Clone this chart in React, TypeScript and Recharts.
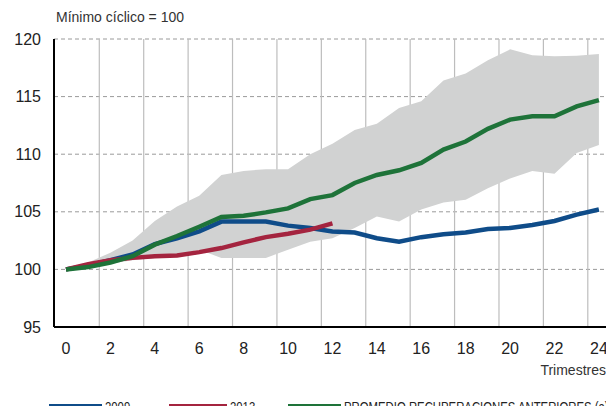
import React from 'react'
import { ComposedChart, Line, Area, XAxis, YAxis, CartesianGrid } from 'recharts'

const quarters = [0, 1, 2, 3, 4, 5, 6, 7, 8, 9, 10, 11, 12, 13, 14, 15, 16, 17, 18, 19, 20, 21, 22, 23, 24]
const serie2009 = [100, 100.35, 100.8, 101.3, 102.2, 102.7, 103.3, 104.15, 104.15, 104.15, 103.8, 103.6, 103.3, 103.2, 102.7, 102.4, 102.8, 103.05, 103.2, 103.5, 103.6, 103.85, 104.2, 104.75, 105.2]
const serie2013 = [100, 100.45, 100.8, 101.0, 101.15, 101.2, 101.5, 101.85, 102.35, 102.8, 103.1, 103.45, 104.0]
const promedio = [100, 100.2, 100.6, 101.15, 102.15, 102.9, 103.7, 104.55, 104.65, 104.95, 105.3, 106.1, 106.45, 107.5, 108.2, 108.6, 109.25, 110.4, 111.1, 112.2, 113.0, 113.3, 113.3, 114.15, 114.7]
const bandaMin = [100, 100.2, 100.5, 100.8, 101.0, 101.3, 101.7, 101.0, 101.0, 101.0, 101.7, 102.4, 102.7, 103.6, 104.6, 104.15, 105.2, 105.8, 106.05, 107.05, 107.9, 108.55, 108.3, 110.1, 110.8]
const bandaMax = [100, 100.6, 101.45, 102.5, 104.2, 105.45, 106.4, 108.2, 108.55, 108.7, 108.7, 110.0, 110.9, 112.1, 112.65, 114.0, 114.6, 116.4, 117.0, 118.15, 119.1, 118.6, 118.5, 118.55, 118.7]

const xTicks = [0, 2, 4, 6, 8, 10, 12, 14, 16, 18, 20, 22, 24]
const yTicks = [95, 100, 105, 110, 115, 120]
const verticalGrid = [1.5, 3.5, 5.5, 7.5, 9.5, 11.5, 13.5, 15.5, 17.5, 19.5, 21.5, 23.5]
const xDomain: [number, number] = [-0.54, 24.68]

const data = quarters.map((q, i) => ({
  q,
  s2009: serie2009[i],
  s2013: i < serie2013.length ? serie2013[i] : null,
  prom: promedio[i],
  banda: [bandaMin[i], bandaMax[i]],
}))

const BLUE = '#0f4c89'
const RED = '#a4243f'
const GREEN = '#1e7339'
const font = '"Liberation Sans", Arial, sans-serif'

const legend = [
  { label: '2009-', color: BLUE, left: 49, sw: 53 },
  { label: '2013-', color: RED, left: 169, sw: 58 },
  { label: 'PROMEDIO RECUPERACIONES ANTERIORES (a)', color: GREEN, left: 288, sw: 53 },
]

export default function App() {
  return (
    <div style={{ position: 'relative', width: 614, height: 414, margin: -8, background: '#fff', fontFamily: font, overflow: 'hidden' }}>
      <div style={{ position: 'absolute', left: 56, top: 9, fontSize: 14, color: '#333' }}>Mínimo cíclico = 100</div>
      <ComposedChart width={614} height={414} data={data} margin={{ top: 39, right: 0, bottom: 57, left: 0 }}>
        <CartesianGrid vertical={false} stroke="#9a9a9a" strokeDasharray="4 3" />
        <CartesianGrid
          horizontal={false}
          stroke="#bdbdbd"
          strokeWidth={1.2}
          verticalCoordinatesGenerator={({ offset }: any) =>
            verticalGrid.map((q) => offset.left + ((q - xDomain[0]) / (xDomain[1] - xDomain[0])) * offset.width)
          }
        />
        <XAxis
          dataKey="q"
          type="number"
          domain={xDomain}
          ticks={xTicks}
          interval={0}
          tickLine={false}
          axisLine={{ stroke: '#000', strokeWidth: 2 }}
          tickMargin={10}
          tick={{ fill: '#222', fontSize: 16, fontFamily: font }}
        />
        <YAxis
          width={54}
          domain={[95, 120]}
          ticks={yTicks}
          interval={0}
          tickLine={false}
          axisLine={{ stroke: '#000', strokeWidth: 2 }}
          tickMargin={7}
          tick={{ fill: '#222', fontSize: 16, fontFamily: font }}
        />
        <Area dataKey="banda" stroke="none" fill="#d1d2d2" fillOpacity={1} isAnimationActive={false} />
        <Line dataKey="s2009" stroke={BLUE} strokeWidth={4.5} dot={false} isAnimationActive={false} />
        <Line dataKey="s2013" stroke={RED} strokeWidth={4.5} dot={false} isAnimationActive={false} />
        <Line dataKey="prom" stroke={GREEN} strokeWidth={4.5} dot={false} isAnimationActive={false} />
      </ComposedChart>
      <div style={{ position: 'absolute', right: 8, top: 362, fontSize: 14, color: '#333' }}>Trimestres</div>
      {legend.map((l) => (
        <div key={l.label} style={{ position: 'absolute', left: l.left, top: 399, height: 16, display: 'flex', alignItems: 'center', fontSize: 14, lineHeight: '16px', color: '#222', whiteSpace: 'nowrap' }}>
          <span style={{ display: 'inline-block', width: l.sw, height: 6, background: l.color, marginRight: 3 }} />
          <span style={{ display: 'inline-block', transform: 'scaleX(0.81)', transformOrigin: 'left center' }}>{l.label}</span>
        </div>
      ))}
    </div>
  )
}
